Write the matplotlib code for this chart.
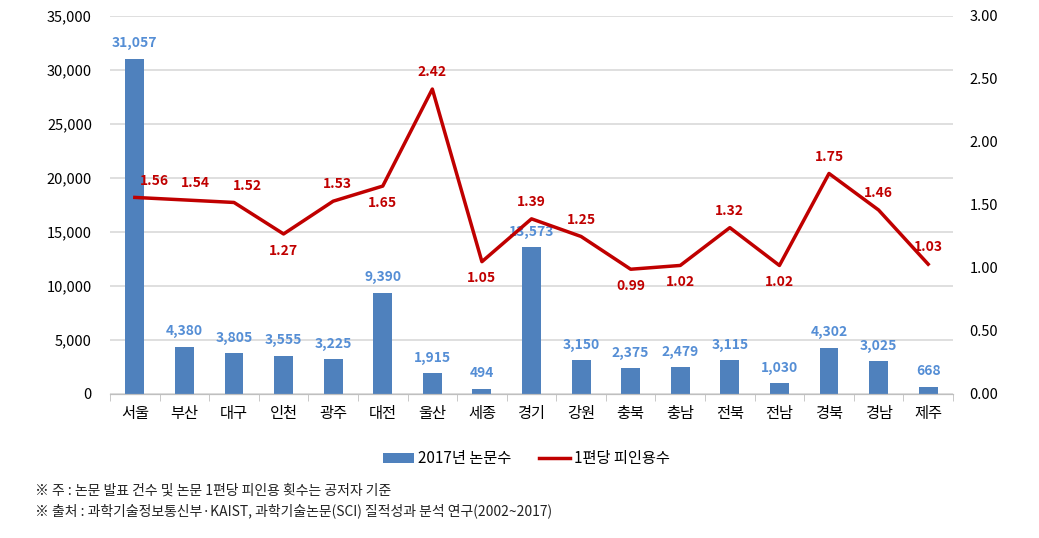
import matplotlib
matplotlib.use('Agg')
import matplotlib.pyplot as plt
import numpy as np
from matplotlib.ticker import FuncFormatter, MultipleLocator

plt.rcParams['font.family'] = ['Noto Sans CJK KR', 'DejaVu Sans']

regions = ['서울', '부산', '대구', '인천', '광주', '대전', '울산', '세종', '경기',
           '강원', '충북', '충남', '전북', '전남', '경북', '경남', '제주']
papers = [31057, 4380, 3805, 3555, 3225, 9390, 1915, 494, 13573,
          3150, 2375, 2479, 3115, 1030, 4302, 3025, 668]
citations = [1.56, 1.54, 1.52, 1.27, 1.53, 1.65, 2.42, 1.05, 1.39,
             1.25, 0.99, 1.02, 1.32, 1.02, 1.75, 1.46, 1.03]
# label above (1) or below (-1) the line point, and sideways shift in points
label_side = [1, 1, 1, -1, 1, -1, 1, -1, 1, 1, -1, -1, 1, -1, 1, 1, 1]
label_shift = [14, 8, 10, 0, 3, 0, 0, 0, 0, 0, 0, 0, 0, 0, 0, 0, 0]

bar_color = '#4F81BD'
line_color = '#C00000'

fig = plt.figure(figsize=(10.39, 5.38), dpi=100)
ax = fig.add_axes([0.1059, 0.2677, 0.8113, 0.7026])
ax2 = ax.twinx()

x = np.arange(len(regions))
bars = ax.bar(x, papers, width=0.38, color=bar_color, zorder=2, label='2017년 논문수')
ax.set_xlim(-0.5, len(regions) - 0.5)
ax.set_ylim(0, 35000)
ax.yaxis.set_major_locator(MultipleLocator(5000))
ax.yaxis.set_major_formatter(FuncFormatter(lambda v, p: f'{int(v):,}'))
ax.grid(axis='y', color='#D9D9D9', linewidth=1.2, zorder=0)
ax.set_axisbelow(True)

for xi, v in zip(x, papers):
    ax.annotate(f'{v:,}', (xi, v), xytext=(0, 6), textcoords='offset points',
                ha='center', va='bottom', fontsize=10, fontweight='bold',
                color='#558ED5', zorder=5)

ax.set_xticks(x)
ax.set_xticklabels(regions, fontsize=11)
ax.set_xticks(np.arange(-0.5, len(regions), 1), minor=True)
ax.tick_params(axis='x', which='major', length=0, pad=8)
ax.tick_params(axis='x', which='minor', length=5, color='#BFBFBF')
ax.tick_params(axis='y', length=0, labelsize=10.5, pad=13)

line, = ax2.plot(x, citations, color=line_color, linewidth=2.5, zorder=3,
                 label='1편당 피인용수')
ax2.set_ylim(0, 3.0)
ax2.yaxis.set_major_locator(MultipleLocator(0.5))
ax2.yaxis.set_major_formatter(FuncFormatter(lambda v, p: f'{v:.2f}'))
ax2.tick_params(axis='y', length=0, labelsize=10.5, pad=12)

for xi, v, s, dx in zip(x, citations, label_side, label_shift):
    ax2.annotate(f'{v:.2f}', (xi, v), xytext=(dx, 7 * s),
                 textcoords='offset points', ha='center',
                 va='bottom' if s > 0 else 'top', fontsize=10, fontweight='bold',
                 color=line_color, zorder=5)

for a in (ax, ax2):
    for side in ('top', 'left', 'right'):
        a.spines[side].set_visible(False)
    a.spines['bottom'].set_color('#BFBFBF')

fig.legend([bars, line], ['2017년 논문수', '1편당 피인용수'], loc='center',
           bbox_to_anchor=(0.507, 0.147), ncol=2, frameon=False, fontsize=11,
           handlelength=2, columnspacing=1.8, handletextpad=0.3)

fig.text(0.034, 0.088, '※ 주 : 논문 발표 건수 및 논문 1편당 피인용 횟수는 공저자 기준',
         fontsize=10, color='#222222', va='center')
fig.text(0.034, 0.050, '※ 출처 : 과학기술정보통신부·KAIST, 과학기술논문(SCI) 질적성과 분석 연구(2002~2017)',
         fontsize=10, color='#222222', va='center')

fig.savefig('out.png', dpi=100)
